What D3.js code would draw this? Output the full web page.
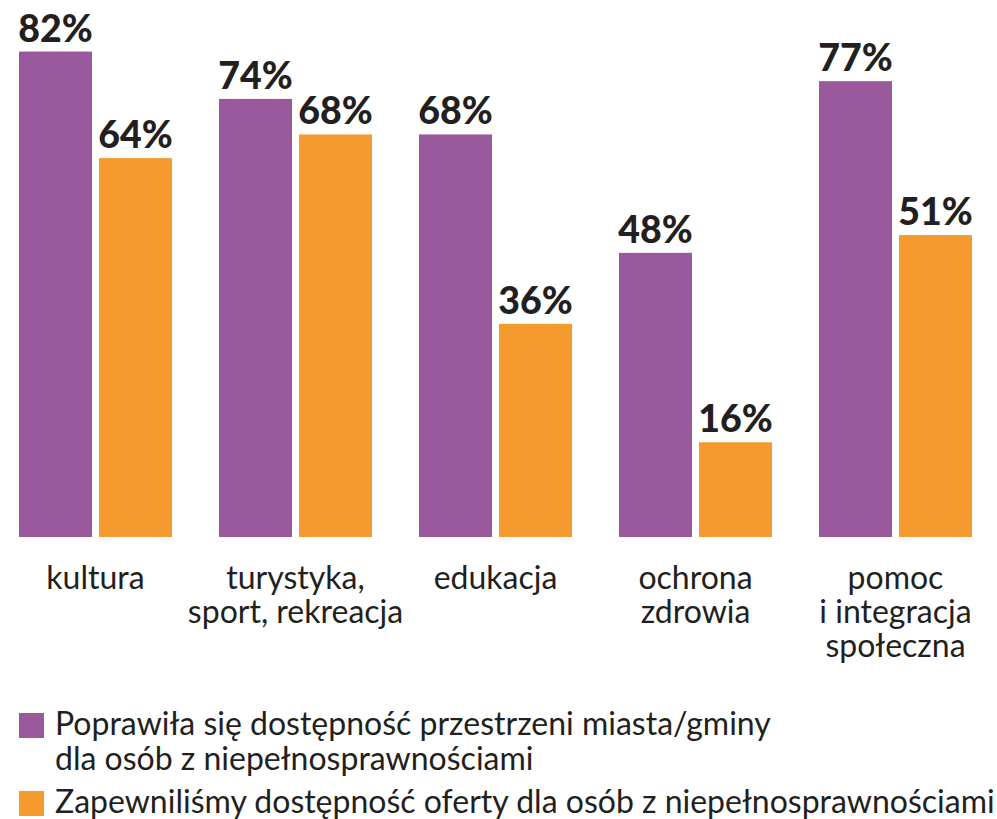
<!DOCTYPE html>
<html><head><meta charset="utf-8">
<script src="https://cdn.jsdelivr.net/npm/d3@7"></script>
<style>body{margin:0;background:#fff}svg{display:block}text{font-family:Lato,"DejaVu Sans",sans-serif;fill:#231f20}</style>
</head><body><svg id="c" width="997" height="819"></svg>
<script>
const categories = [["kultura"],["turystyka,","sport, rekreacja"],["edukacja"],["ochrona","zdrowia"],["pomoc","i integracja","społeczna"]];
const seriesNames = ["Poprawiła się dostępność przestrzeni miasta/gminy|dla osób z niepełnosprawnościami","Zapewniliśmy dostępność oferty dla osób z niepełnosprawnościami"];
const series1 = [82,74,68,48,77];
const series2 = [64,68,36,16,51];
const colors = ["#9b599d","#f59a2f"];

const svg = d3.select("#c");
const x = d3.scaleBand().domain(d3.range(5)).range([19,1019]);
const bw = 73, gap = 7;
const y = d3.scaleLinear().domain([0,100]).range([537,-55]);
const data = [series1, series2];

const g = svg.append("g");
data.forEach((s, si) => {
  g.selectAll(".b"+si).data(s).enter().append("rect")
    .attr("x",(d,i)=>x(i)+si*(bw+gap))
    .attr("y",d=>y(d)).attr("width",bw).attr("height",d=>y(0)-y(d))
    .attr("fill",colors[si]);
  g.selectAll(".l"+si).data(s).enter().append("text")
    .attr("x",(d,i)=>x(i)+si*(bw+gap)+bw/2)
    .attr("y",d=>y(d)-10).attr("text-anchor","middle")
    .style("font-weight","900").style("font-size","37.5px")
    .text(d=>d+"%");
});
categories.forEach((lines,i)=>{
  const t = g.append("text").attr("text-anchor","middle").style("font-size","32px");
  lines.forEach((l,j)=>t.append("tspan").attr("x",x(i)+bw+gap/2).attr("y",589+j*34).text(l));
});
const leg = svg.append("g");
const legY = [713,791];
seriesNames.forEach((n,i)=>{
  leg.append("rect").attr("x",19).attr("y",legY[i]).attr("width",25).attr("height",25).attr("fill",colors[i]);
  const t = leg.append("text").style("font-size","32px");
  n.split("|").forEach((l,j)=>t.append("tspan").attr("x",55).attr("y",legY[i]+22+j*35).text(l));
});
</script></body></html>
